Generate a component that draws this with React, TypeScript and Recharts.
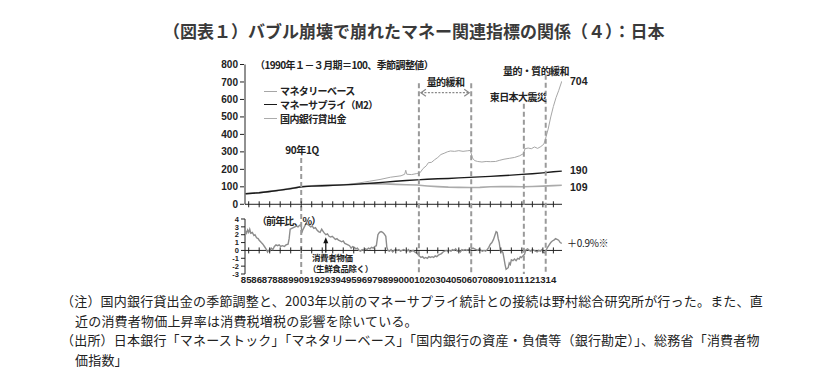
import React from 'react';
import { LineChart, Line, XAxis, YAxis, ReferenceLine, ReferenceDot } from 'recharts';

const FONT_JP = '"Noto Sans CJK JP", "Noto Sans", sans-serif';
const FONT_NUM = '"Liberation Sans", Arial, sans-serif';

// ---- data ----
const yearTicks = [1985, 1986, 1987, 1988, 1989, 1990, 1991, 1992, 1993, 1994, 1995, 1996, 1997, 1998, 1999,
  2000, 2001, 2002, 2003, 2004, 2005, 2006, 2007, 2008, 2009, 2010, 2011, 2012, 2013, 2014];
const upperTicks = [0, 100, 200, 300, 400, 500, 600, 700, 800];
const lowerTicks = [-3, -2, -1, 0, 1, 2, 3, 4];

const mbT = [1984.7, 1985.5, 1986.5, 1987.5, 1988.5, 1989.5, 1990.0, 1990.5, 1991.5, 1992.5, 1993.5, 1994.5,
  1995.5, 1996.5, 1997.5, 1998.5, 1999.5, 1999.85, 1999.95, 2000.05, 2000.5, 2001.0, 2001.3, 2001.6, 2001.9,
  2002.1, 2002.4, 2002.7, 2003.0, 2003.3, 2003.6, 2003.9, 2004.2, 2004.6, 2005.0, 2005.4, 2005.8, 2006.1,
  2006.3, 2006.5, 2006.8, 2007.2, 2007.6, 2008.0, 2008.5, 2008.9, 2009.3, 2009.8, 2010.3, 2010.8, 2011.15,
  2011.3, 2011.6, 2011.9, 2012.2, 2012.5, 2012.8, 2013.1, 2013.25, 2013.5, 2013.75, 2014.0, 2014.25, 2014.5, 2014.8];
const mbV = [61, 63, 68, 75, 83, 92, 100, 102, 104, 105, 109, 114,
  122, 132, 142, 155, 163, 172, 195, 172, 170, 176, 180, 205, 220,
  238, 240, 255, 268, 285, 292, 300, 305, 303, 307, 303, 306, 308,
  265, 250, 245, 242, 245, 244, 245, 252, 258, 263, 268, 278, 290,
  318, 322, 318, 328, 320, 330, 345, 375, 430, 500, 560, 610, 650, 704];

const m2T = [1984.7, 1986, 1987, 1988, 1989, 1990, 1991, 1992, 1993, 1994, 1995, 1996, 1997, 1998, 1999, 2000,
  2001, 2002, 2003, 2004, 2005, 2006, 2007, 2008, 2009, 2010, 2011, 2012, 2013, 2014, 2014.8];
const m2V = [60, 66, 73, 81, 90, 100, 104, 106, 108, 111, 114, 118, 122, 127, 132, 136,
  140, 143, 146, 148, 151, 154, 157, 160, 163, 167, 171, 175, 180, 186, 190];

const loanT = [1984.7, 1986, 1987, 1988, 1989, 1990, 1991, 1992, 1993, 1994, 1995, 1996, 1997, 1998, 1999, 2000,
  2001, 2002, 2003, 2004, 2005, 2006, 2007, 2008, 2009, 2010, 2011, 2012, 2013, 2014, 2014.8];
const loanV = [60, 67, 74, 82, 91, 100, 106, 109, 111, 112, 114, 116, 117, 117, 114, 112,
  110, 105, 101, 98, 97, 96, 97, 100, 102, 101, 100, 102, 104, 107, 109];

const cpiT = [1984.7, 1984.8, 1984.9, 1985.0, 1985.1, 1985.2, 1985.35, 1985.5, 1985.6, 1985.75, 1985.9, 1986.0,
  1986.2, 1986.35, 1986.5, 1986.65, 1986.8, 1986.9, 1987.0, 1987.15, 1987.3, 1987.45, 1987.6, 1987.75, 1987.9,
  1988.05, 1988.2, 1988.4, 1988.55, 1988.75, 1988.85, 1988.95, 1989.1, 1989.25, 1989.4, 1989.55, 1989.7, 1989.85,
  1990.0, 1990.05, 1990.15, 1990.3, 1990.45, 1990.6, 1990.75, 1990.9, 1991.05, 1991.2, 1991.35, 1991.5, 1991.65,
  1991.8, 1991.95, 1992.05, 1992.2, 1992.35, 1992.5, 1992.65, 1992.8, 1992.95, 1993.1, 1993.25, 1993.4, 1993.55,
  1993.7, 1993.85, 1994.0, 1994.15, 1994.3, 1994.45, 1994.6, 1994.75, 1994.9, 1995.05, 1995.2, 1995.35, 1995.5,
  1995.65, 1995.8, 1995.95, 1996.1, 1996.25, 1996.4, 1996.55, 1996.7, 1996.85, 1997.0, 1997.15, 1997.3, 1997.45,
  1997.6, 1997.75, 1997.9, 1998.05, 1998.15, 1998.25, 1998.4, 1998.55, 1998.7, 1998.85, 1999.0, 1999.15, 1999.3,
  1999.45, 1999.6, 1999.75, 1999.9, 2000.05, 2000.2, 2000.35, 2000.5, 2000.65, 2000.8, 2000.95, 2001.1, 2001.25,
  2001.4, 2001.55, 2001.7, 2001.85, 2002.0, 2002.15, 2002.3, 2002.45, 2002.6, 2002.75, 2002.9, 2003.05, 2003.2,
  2003.35, 2003.5, 2003.65, 2003.8, 2003.95, 2004.1, 2004.25, 2004.4, 2004.55, 2004.7, 2004.85, 2005.0, 2005.15,
  2005.3, 2005.45, 2005.6, 2005.75, 2005.9, 2006.05, 2006.2, 2006.35, 2006.5, 2006.65, 2006.8, 2006.95, 2007.1,
  2007.25, 2007.4, 2007.55, 2007.7, 2007.85, 2008.0, 2008.15, 2008.3, 2008.45, 2008.55, 2008.65, 2008.75, 2008.85,
  2008.95, 2009.05, 2009.2, 2009.3, 2009.4, 2009.5, 2009.6, 2009.7, 2009.8, 2009.9, 2010.0, 2010.15, 2010.3,
  2010.45, 2010.6, 2010.75, 2010.85, 2010.95, 2011.1, 2011.25, 2011.4, 2011.55, 2011.7, 2011.85, 2012.0, 2012.15,
  2012.3, 2012.45, 2012.6, 2012.75, 2012.9, 2013.0, 2013.15, 2013.3, 2013.45, 2013.6, 2013.75, 2013.9, 2014.05,
  2014.2, 2014.35, 2014.5, 2014.65, 2014.8];
const cpiV = [2.5, 2.2, 2.6, 2.3, 2.7, 2.2, 2.3, 1.9, 2.0, 1.6, 1.5, 1.3,
  1.0, 0.8, 0.5, 0.2, -0.2, 0.0, -0.1, 0.3, 0.1, 0.5, 0.7, 0.6, 0.7,
  0.5, 0.6, 0.5, 0.7, 0.8, 1.5, 2.7, 2.8, 2.9, 3.0, 3.1, 3.0, 3.2,
  3.3, 2.2, 2.6, 3.0, 3.4, 3.3, 3.2, 3.0, 3.1, 2.8, 2.9, 2.6, 2.4,
  2.3, 2.7, 2.5, 2.2, 2.0, 2.1, 1.8, 1.7, 1.8, 1.6, 1.4, 1.5, 1.3,
  1.2, 1.1, 1.2, 0.9, 0.8, 0.7, 0.6, 0.3, 0.5, 0.4, 0.2, 0.3, 0.0,
  -0.1, 0.1, 0.0, 0.2, 0.1, 0.3, 0.2, 0.4, 0.3, 0.5, 0.6, 2.0, 2.3,
  2.4, 2.3, 2.1, 1.8, 0.4, 0.0, -0.1, 0.1, -0.2, 0.0, 0.1, 0.0, 0.1,
  -0.1, 0.0, 0.1, 0.0, -0.1, 0.1, -0.2, -0.1, 0.0, -0.2, -0.3, -0.5, -0.7,
  -0.9, -0.8, -1.0, -0.9, -1.0, -0.8, -0.9, -0.8, -0.9, -0.7, -0.8, -0.6, -0.5,
  -0.4, -0.2, -0.1, 0.0, -0.1, 0.0, -0.1, 0.1, 0.0, 0.2, -0.1, 0.0, -0.2,
  0.1, 0.0, 0.1, 0.0, 0.1, 0.0, 0.2, 0.3, 0.2, 0.1, 0.0, 0.2, 0.0,
  -0.1, 0.0, -0.1, 0.1, 0.4, 0.8, 1.0, 1.4, 2.0, 2.4, 2.3, 1.5, 1.0,
  0.0, 0.0, -0.3, -1.0, -1.8, -2.4, -2.3, -2.2, -1.6, -1.8, -1.2, -1.3, -1.1,
  -1.3, -1.0, -1.1, -0.8, -0.9, -0.7, -0.5, 0.1, 0.2, 0.0, -0.1, 0.1, 0.0,
  -0.1, -0.2, 0.0, -0.1, 0.1, -0.2, -0.3, 0.0, 0.4, 0.7, 1.0, 1.2, 1.3,
  1.5, 1.4, 1.3, 1.0, 0.9];

// event dates (year fraction) and the top of each dashed marker line (upper-axis value)
const eventT = [1990.0, 2001.2, 2006.18, 2011.19, 2013.27];
const eventTop = [265, 692, 692, 575, 741];
const qeArrowLevel = 639;
const cpiArrow = { t: 1992.34, from: -0.3, to: 1.67 };

const X_DOMAIN: [number, number] = [1984.65, 2014.82];
const U_DOMAIN: [number, number] = [-398.9, 800];
const L_DOMAIN: [number, number] = [-3, 23.66];

const toPoints = (ts: number[], vs: number[]) => ts.map((t, i) => ({ t, v: vs[i] }));
const mbData = toPoints(mbT, mbV);
const m2Data = toPoints(m2T, m2V);
const loanData = toPoints(loanT, loanV);
const cpiData = toPoints(cpiT, cpiV);

const AXIS = '#222';
const DASH = '#9a9a9a';

const tickMark = (p: any) => (
  <line x1={p.cx} x2={p.cx} y1={p.cy - 3} y2={p.cy + 3} stroke={AXIS} strokeWidth={1} />
);

const qeArrowShape = (p: any) => {
  const { x1, x2, y1 } = p;
  const a = x1 + 2;
  const b = x2 - 2;
  return (
    <g>
      <line x1={a} x2={b} y1={y1} y2={y1} stroke="#888" strokeWidth={1.2} strokeDasharray="2 1.5" />
      <polyline points={`${a + 5},${y1 - 3.5} ${a},${y1} ${a + 5},${y1 + 3.5}`} fill="none" stroke="#888" strokeWidth={1.2} />
      <polyline points={`${b - 5},${y1 - 3.5} ${b},${y1} ${b - 5},${y1 + 3.5}`} fill="none" stroke="#888" strokeWidth={1.2} />
    </g>
  );
};

const upArrowShape = (p: any) => {
  const { x1, y1, x2, y2 } = p;
  return (
    <g>
      <line x1={x1} x2={x2} y1={y1} y2={y2 + 4} stroke="#111" strokeWidth={1.2} />
      <polygon points={`${x2},${y2} ${x2 - 2.5},${y2 + 6} ${x2 + 2.5},${y2 + 6}`} fill="#111" />
    </g>
  );
};

const Txt = ({ x, y, children, size = 10, ls = -0.6, weight = 700, font = FONT_JP, color = '#222', anchor = 'left' }: any) => (
  <div
    style={{
      position: 'absolute',
      left: anchor === 'left' ? x : undefined,
      top: y - size * 0.5,
      height: size,
      fontSize: size,
      lineHeight: `${size}px`,
      letterSpacing: ls,
      fontWeight: weight,
      fontFamily: font,
      color,
      whiteSpace: 'nowrap',
      ...(anchor === 'center' ? { left: x - 150, width: 300, textAlign: 'center' as const } : {}),
    }}
  >
    {children}
  </div>
);

const LegendRow = ({ y, color, width, label }: any) => (
  <div style={{ position: 'absolute', left: 264, top: y - 5, height: 10, display: 'flex', alignItems: 'center' }}>
    <div style={{ width: 13, height: width, background: color, marginRight: 3 }} />
    <span style={{ fontSize: 10, letterSpacing: -0.6, fontWeight: 700, fontFamily: FONT_JP, color: '#222', lineHeight: '10px' }}>{label}</span>
  </div>
);

export default function App() {
  return (
    <div style={{ position: 'absolute', left: 0, top: 0, width: 840, height: 377, background: '#fff', overflow: 'hidden' }}>
      <div
        style={{
          position: 'absolute', left: 163, top: 19, fontSize: 17, lineHeight: '24px', fontWeight: 700,
          fontFamily: FONT_JP, color: '#3a3a3a', whiteSpace: 'nowrap', letterSpacing: 0,
        }}
      >
        （図表１）バブル崩壊で崩れたマネー関連指標の関係（４）：日本
      </div>

      <div style={{ position: 'absolute', left: 0, top: 0 }}>
        <LineChart width={840} height={290} margin={{ top: 64.5, right: 278, bottom: 0, left: 243 }}>
          <XAxis
            dataKey="t"
            type="number"
            domain={X_DOMAIN}
            allowDataOverflow
            ticks={yearTicks}
            interval={0}
            height={16}
            axisLine={false}
            tickLine={false}
            tickSize={0}
            tickMargin={2.5}
            tickFormatter={(v: number) => String(v).slice(2)}
            tick={{ fontSize: 9.6, fontFamily: FONT_NUM, fontWeight: 700, fill: '#222', dx: -2.5 }}
          />
          <YAxis
            yAxisId="u"
            orientation="left"
            width={1}
            type="number"
            domain={U_DOMAIN}
            allowDataOverflow
            ticks={upperTicks}
            interval={0}
            axisLine={false}
            tickLine={{ stroke: AXIS }}
            tickSize={4}
            tickMargin={2}
            tick={{ fontSize: 10, fontFamily: FONT_NUM, fontWeight: 700, fill: '#222' }}
          />
          <YAxis
            yAxisId="l"
            orientation="left"
            width={1}
            type="number"
            domain={L_DOMAIN}
            allowDataOverflow
            ticks={lowerTicks}
            interval={0}
            axisLine={false}
            tickLine={{ stroke: AXIS }}
            tickSize={4}
            tickMargin={2}
            tick={{ fontSize: 7.5, fontFamily: FONT_NUM, fontWeight: 700, fill: '#222' }}
          />

          {/* axis frames */}
          <ReferenceLine yAxisId="u" segment={[{ x: X_DOMAIN[0], y: 0 }, { x: X_DOMAIN[0], y: 800 }]} stroke={AXIS} strokeWidth={1} />
          <ReferenceLine yAxisId="l" segment={[{ x: X_DOMAIN[0], y: -3 }, { x: X_DOMAIN[0], y: 4 }]} stroke={AXIS} strokeWidth={1} />
          <ReferenceLine yAxisId="u" y={0} stroke={AXIS} strokeWidth={1} />
          <ReferenceLine yAxisId="l" y={0} stroke={AXIS} strokeWidth={1} />
          {yearTicks.map((yr) => (
            <ReferenceDot key={`tu${yr}`} yAxisId="u" x={yr} y={0} shape={tickMark} />
          ))}
          {yearTicks.map((yr) => (
            <ReferenceDot key={`tl${yr}`} yAxisId="l" x={yr} y={0} shape={tickMark} />
          ))}

          <Line yAxisId="u" data={loanData} dataKey="v" stroke="#ababab" strokeWidth={1.6} dot={false} isAnimationActive={false} />
          <Line yAxisId="u" data={mbData} dataKey="v" stroke="#a6a6a6" strokeWidth={1} dot={false} isAnimationActive={false} />
          <Line yAxisId="u" data={m2Data} dataKey="v" stroke="#1a1a1a" strokeWidth={1.4} dot={false} isAnimationActive={false} />
          <Line yAxisId="l" data={cpiData} dataKey="v" stroke="#8c8c8c" strokeWidth={1.4} dot={false} isAnimationActive={false} />

          {eventT.map((t, i) => (
            <ReferenceLine
              key={`ev${i}`}
              yAxisId="u"
              segment={[{ x: t, y: eventTop[i] }, { x: t, y: U_DOMAIN[0] }]}
              stroke={DASH}
              strokeWidth={2}
              strokeDasharray="5 3"
            />
          ))}
          <ReferenceLine
            yAxisId="u"
            segment={[{ x: eventT[1], y: qeArrowLevel }, { x: eventT[2], y: qeArrowLevel }]}
            shape={qeArrowShape}
          />
          <ReferenceLine
            yAxisId="l"
            segment={[{ x: cpiArrow.t, y: cpiArrow.from }, { x: cpiArrow.t, y: cpiArrow.to }]}
            shape={upArrowShape}
          />
        </LineChart>
      </div>

      {/* annotations */}
      <Txt x={255} y={65}>（1990年１－３月期＝100、季節調整値）</Txt>
      <LegendRow y={91} color="#a6a6a6" width={1} label="マネタリーベース" />
      <LegendRow y={104.5} color="#1a1a1a" width={1.6} label="マネーサプライ（M2）" />
      <LegendRow y={118.5} color="#ababab" width={1.6} label="国内銀行貸出金" />
      <Txt x={302} y={150} anchor="center" ls={-0.4}>90年1Q</Txt>
      <Txt x={445.5} y={82} anchor="center">量的緩和</Txt>
      <Txt x={518} y={97} anchor="center">東日本大震災</Txt>
      <Txt x={536} y={71} anchor="center">量的・質的緩和</Txt>
      <Txt x={570} y={81} font={FONT_NUM} ls={0} size={10.5}>704</Txt>
      <Txt x={570} y={170} font={FONT_NUM} ls={0} size={10.5}>190</Txt>
      <Txt x={570} y={187} font={FONT_NUM} ls={0} size={10.5}>109</Txt>
      <Txt x={257} y={221} ls={-0.9}>（前年比、%）</Txt>
      <Txt x={567} y={243} ls={-0.3} weight={400}>＋0.9%※</Txt>
      <Txt x={312} y={257.5} size={8.5} ls={-0.4}>消費者物価</Txt>
      <Txt x={308} y={268.5} size={8.5} ls={-0.4}>（生鮮食品除く）</Txt>

      {/* notes */}
      <div style={{ position: 'absolute', left: 61, top: 291, fontFamily: FONT_JP, fontSize: 13, lineHeight: '19.5px', color: '#222', letterSpacing: 0.2, whiteSpace: 'nowrap' }}>
        <div>（注）国内銀行貸出金の季節調整と、2003年以前のマネーサプライ統計との接続は野村総合研究所が行った。また、直</div>
        <div style={{ paddingLeft: 14 }}>近の消費者物価上昇率は消費税増税の影響を除いている。</div>
        <div>（出所）日本銀行「マネーストック」「マネタリーベース」「国内銀行の資産・負債等（銀行勘定）」、総務省「消費者物</div>
        <div style={{ paddingLeft: 14 }}>価指数」</div>
      </div>
    </div>
  );
}
